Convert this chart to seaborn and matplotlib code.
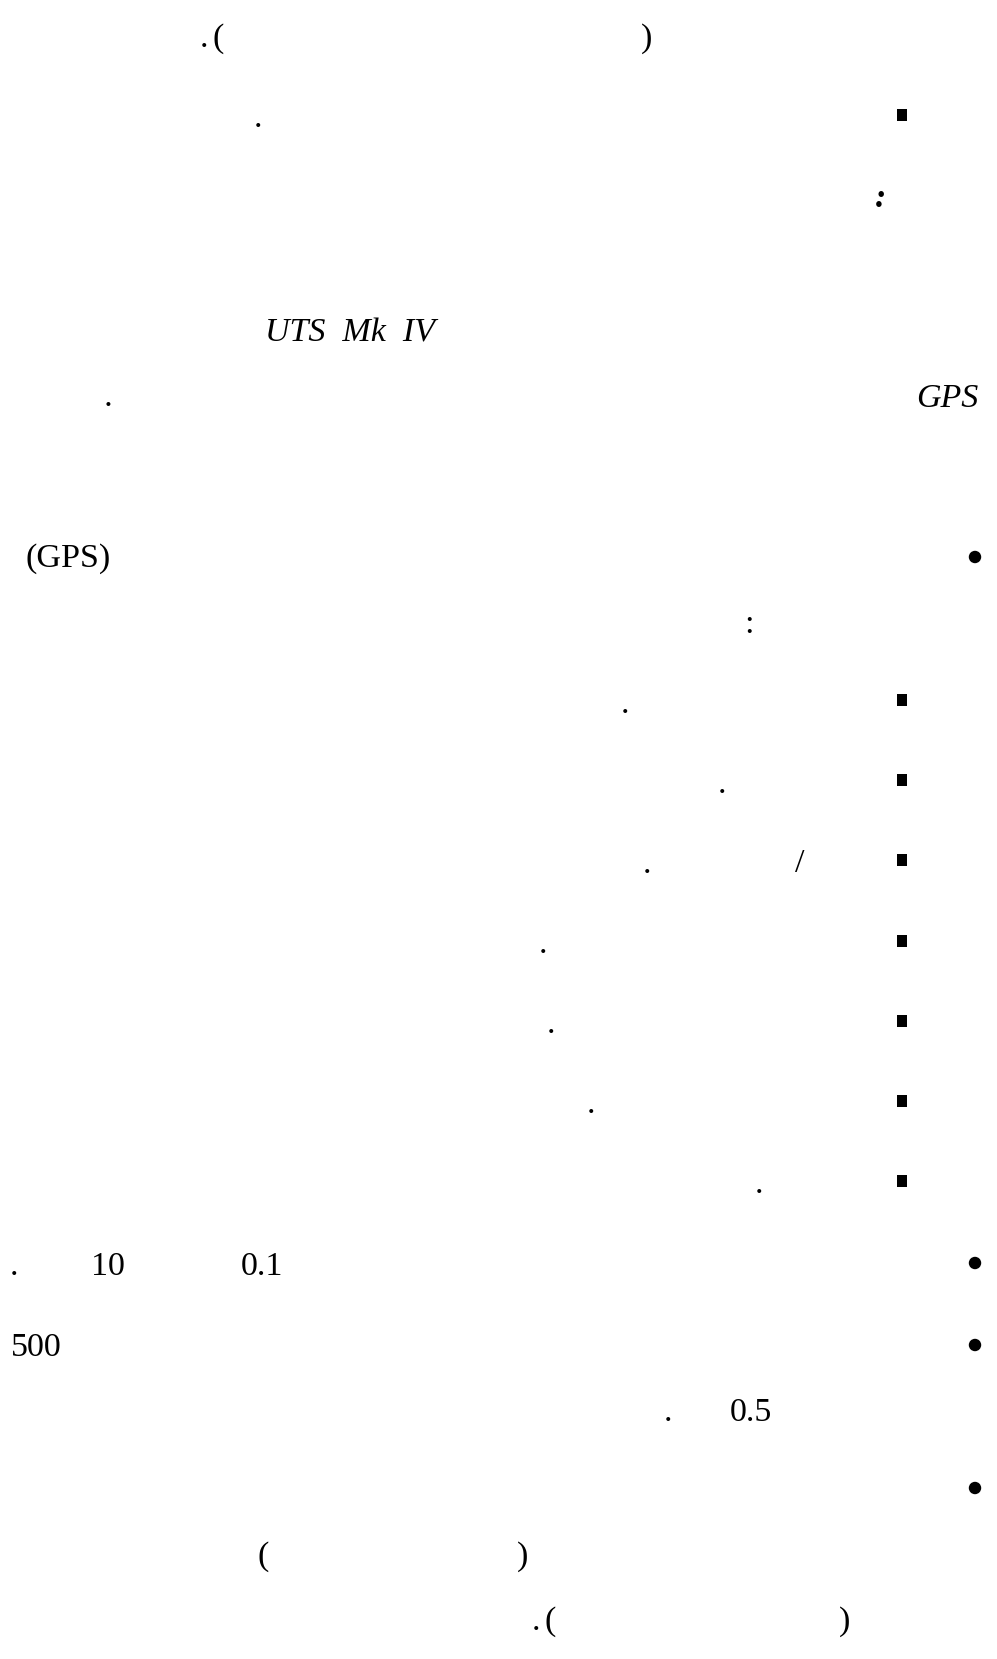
import matplotlib
matplotlib.use("Agg")
import matplotlib.pyplot as plt
import seaborn as sns
import pandas as pd

# ---- content (strings as they appear on the page) ----
texts = [".", "(", ")", ".", ":", "UTS  Mk  IV", "GPS", ".", "(GPS)", ":",
         ".", ".", "/", ".", ".", ".", ".", ".",
         ".", "10", "0.1", "500", ".", "0.5",
         "(", ")", ".", "(", ")"]
text_styles = ["n", "n", "n", "n", "bi", "i", "i", "i", "n", "n",
               "n", "n", "n", "n", "n", "n", "n", "n",
               "n", "n", "n", "n", "n", "n",
               "n", "n", "n", "n", "n"]
# layout (pixel positions on the page; x, baseline y, alignment)
text_x = [204, 212, 641, 258, 881, 265, 916, 109, 25, 749,
          625, 722, 800, 647, 543, 551, 591, 759,
          14, 91, 241, 11, 668, 730,
          257, 517, 536, 544, 839]
text_y = [47, 47, 47, 127, 207, 342, 407, 406, 567, 633,
          713, 793, 872, 873, 953, 1033, 1113, 1193,
          1275, 1275, 1275, 1356, 1421, 1421,
          1565, 1565, 1630, 1630, 1630]
text_ha = ["center", "left", "left", "center", "center", "left", "left", "center", "left", "center",
           "center", "center", "center", "center", "center", "center", "center", "center",
           "center", "left", "left", "left", "center", "left",
           "left", "left", "center", "left", "left"]

bullet_kind = ["square"] * 8 + ["round"] * 4
bullet_x = [902] * 8 + [975] * 4
bullet_y = [115, 700, 780, 860, 941, 1021, 1101, 1181, 557, 1263, 1345, 1488]

W, H, DPI = 997, 1659, 100
sns.set_theme(style="white")
plt.rcParams["font.family"] = ["Liberation Serif", "DejaVu Serif"]

fig = plt.figure(figsize=(W / DPI, H / DPI), dpi=DPI)
fig.patch.set_facecolor("white")
ax = fig.add_axes([0, 0, 1, 1])
ax.set_xlim(0, W)
ax.set_ylim(H, 0)
ax.axis("off")

fs = 24.5
for s, st, x, y, ha in zip(texts, text_styles, text_x, text_y, text_ha):
    ax.text(x, y, s, fontsize=fs, ha=ha, va="baseline", color="black",
            fontstyle="italic" if "i" in st else "normal",
            fontweight="bold" if "b" in st else "normal")

df = pd.DataFrame({"x": bullet_x, "y": bullet_y, "kind": bullet_kind})
rect = [(-0.42, -0.5), (0.42, -0.5), (0.42, 0.5), (-0.42, 0.5), (-0.42, -0.5)]
sns.scatterplot(data=df[df.kind == "square"], x="x", y="y", marker=rect, s=72,
                color="black", edgecolor="none", linewidth=0, ax=ax, legend=False)
sns.scatterplot(data=df[df.kind == "round"], x="x", y="y", marker="o", s=80,
                color="black", edgecolor="none", linewidth=0, ax=ax, legend=False)
ax.set_xlim(0, W)
ax.set_ylim(H, 0)
ax.axis("off")

fig.savefig("out.png", dpi=DPI, facecolor="white")
